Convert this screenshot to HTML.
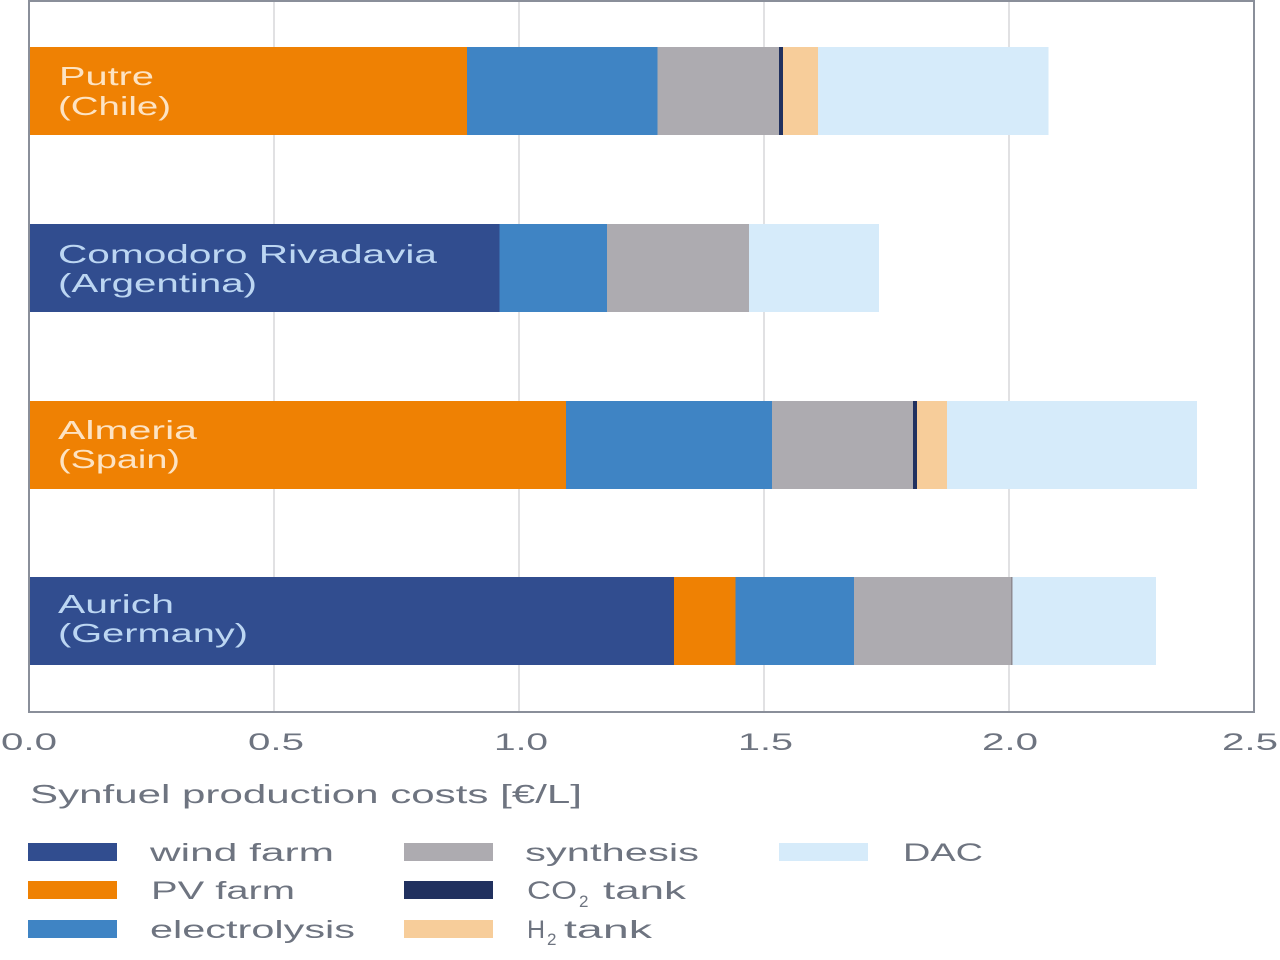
<!DOCTYPE html>
<html>
<head>
<meta charset="utf-8">
<style>
  html, body { margin: 0; padding: 0; background: #ffffff; }
  svg { display: block; }
  text { font-family: "Liberation Sans", "DejaVu Sans", sans-serif; }
</style>
</head>
<body>
<svg width="1280" height="960" viewBox="0 0 1280 960" xmlns="http://www.w3.org/2000/svg">
  <rect x="0" y="0" width="1280" height="960" fill="#ffffff"/>

  <!-- gridlines -->
  <g stroke="#e1e1e3" stroke-width="2">
    <line x1="274" y1="1" x2="274" y2="712"/>
    <line x1="519" y1="1" x2="519" y2="712"/>
    <line x1="764" y1="1" x2="764" y2="712"/>
    <line x1="1009" y1="1" x2="1009" y2="712"/>
  </g>

  <!-- Putre (Chile) -->
  <g>
    <rect x="29" y="47" width="438" height="88" fill="#ef8103"/>
    <rect x="467" y="47" width="190.5" height="88" fill="#3f84c4"/>
    <rect x="657.5" y="47" width="121.5" height="88" fill="#adabb0"/>
    <rect x="779" y="47" width="4" height="88" fill="#21315f"/>
    <rect x="783" y="47" width="35" height="88" fill="#f7cd9a"/>
    <rect x="818" y="47" width="230.5" height="88" fill="#d6ebfa"/>
  </g>

  <!-- Comodoro Rivadavia (Argentina) -->
  <g>
    <rect x="29" y="224" width="470.5" height="88" fill="#314d8f"/>
    <rect x="499.5" y="224" width="107.5" height="88" fill="#3f84c4"/>
    <rect x="607" y="224" width="142" height="88" fill="#adabb0"/>
    <rect x="749" y="224" width="130" height="88" fill="#d6ebfa"/>
  </g>

  <!-- Almeria (Spain) -->
  <g>
    <rect x="29" y="401" width="537" height="88" fill="#ef8103"/>
    <rect x="566" y="401" width="206" height="88" fill="#3f84c4"/>
    <rect x="772" y="401" width="141" height="88" fill="#adabb0"/>
    <rect x="913" y="401" width="4" height="88" fill="#21315f"/>
    <rect x="917" y="401" width="30" height="88" fill="#f7cd9a"/>
    <rect x="947" y="401" width="250" height="88" fill="#d6ebfa"/>
  </g>

  <!-- Aurich (Germany) -->
  <g>
    <rect x="29" y="577" width="645" height="88" fill="#314d8f"/>
    <rect x="674" y="577" width="61.5" height="88" fill="#ef8103"/>
    <rect x="735.5" y="577" width="118.5" height="88" fill="#3f84c4"/>
    <rect x="854" y="577" width="157" height="88" fill="#adabb0"/>
    <rect x="1011" y="577" width="1.5" height="88" fill="#8f8a90"/>
    <rect x="1012.5" y="577" width="143.5" height="88" fill="#d6ebfa"/>
  </g>

  <!-- frame -->
  <rect x="29" y="1" width="1225" height="711" fill="none" stroke="#8a8f9a" stroke-width="2"/>

  <!-- bar labels -->
  <g font-size="26">
    <text x="59" y="85" fill="#fde3c3" textLength="95" lengthAdjust="spacingAndGlyphs">Putre</text>
    <text x="58" y="115" fill="#fde3c3" textLength="113" lengthAdjust="spacingAndGlyphs">(Chile)</text>

    <text x="58" y="263" fill="#bcd6f2" textLength="379" lengthAdjust="spacingAndGlyphs">Comodoro Rivadavia</text>
    <text x="58" y="292" fill="#bcd6f2" textLength="199" lengthAdjust="spacingAndGlyphs">(Argentina)</text>

    <text x="58" y="439" fill="#fde3c3" textLength="139" lengthAdjust="spacingAndGlyphs">Almeria</text>
    <text x="58" y="468" fill="#fde3c3" textLength="122" lengthAdjust="spacingAndGlyphs">(Spain)</text>

    <text x="58" y="613" fill="#bcd6f2" textLength="116" lengthAdjust="spacingAndGlyphs">Aurich</text>
    <text x="58" y="642" fill="#bcd6f2" textLength="190" lengthAdjust="spacingAndGlyphs">(Germany)</text>
  </g>

  <!-- tick labels -->
  <g font-size="24" fill="#6e7480">
    <text x="1" y="750" textLength="56" lengthAdjust="spacingAndGlyphs">0.0</text>
    <text x="248" y="750" textLength="56" lengthAdjust="spacingAndGlyphs">0.5</text>
    <text x="494" y="750" textLength="54" lengthAdjust="spacingAndGlyphs">1.0</text>
    <text x="738" y="750" textLength="55" lengthAdjust="spacingAndGlyphs">1.5</text>
    <text x="982" y="750" textLength="56" lengthAdjust="spacingAndGlyphs">2.0</text>
    <text x="1222" y="750" textLength="56" lengthAdjust="spacingAndGlyphs">2.5</text>
  </g>

  <!-- axis title -->
  <text x="30" y="803" font-size="26" fill="#6e7480" textLength="552" lengthAdjust="spacingAndGlyphs">Synfuel production costs [€/L]</text>

  <!-- legend -->
  <g>
    <rect x="28" y="843" width="89" height="18" fill="#314d8f"/>
    <rect x="28" y="881" width="89" height="18" fill="#ef8103"/>
    <rect x="28" y="920" width="89" height="18" fill="#3f84c4"/>

    <rect x="404" y="843" width="89" height="18" fill="#adabb0"/>
    <rect x="404" y="881" width="89" height="18" fill="#21315f"/>
    <rect x="404" y="920" width="89" height="18" fill="#f7cd9a"/>

    <rect x="779" y="843" width="89" height="18" fill="#d6ebfa"/>
  </g>
  <g font-size="25" fill="#6e7480">
    <text x="150" y="861" textLength="184" lengthAdjust="spacingAndGlyphs">wind farm</text>
    <text x="151" y="899" textLength="144" lengthAdjust="spacingAndGlyphs">PV farm</text>
    <text x="150" y="938" textLength="205" lengthAdjust="spacingAndGlyphs">electrolysis</text>

    <text x="525" y="861" textLength="174" lengthAdjust="spacingAndGlyphs">synthesis</text>

    <text x="527" y="899" textLength="50" lengthAdjust="spacingAndGlyphs">CO</text>
    <text x="579" y="907" font-size="17">2</text>
    <text x="603" y="899" textLength="83" lengthAdjust="spacingAndGlyphs">tank</text>

    <text x="527" y="938">H</text>
    <text x="547" y="945" font-size="17">2</text>
    <text x="564" y="938" textLength="88" lengthAdjust="spacingAndGlyphs">tank</text>

    <text x="903" y="861" textLength="80" lengthAdjust="spacingAndGlyphs">DAC</text>
  </g>
</svg>
</body>
</html>
